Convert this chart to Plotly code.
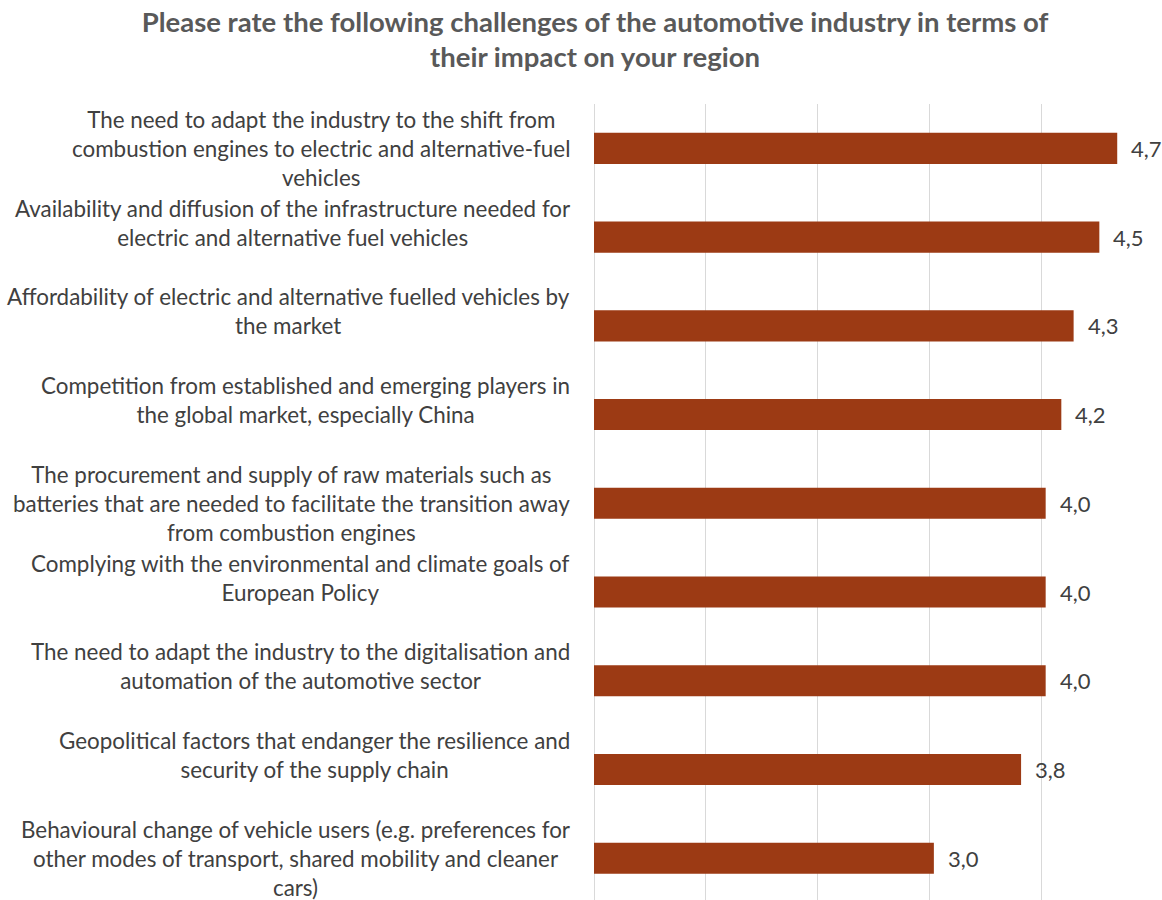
import plotly.graph_objects as go

# ---- data ----
categories = [
    "The need to adapt the industry to the shift from<br>combustion engines to electric and alternative-fuel<br>vehicles",
    "Availability and diffusion of the infrastructure needed for<br>electric and alternative fuel vehicles",
    "Affordability of electric and alternative fuelled vehicles by<br>the market",
    "Competition from established and emerging players in<br>the global market, especially China",
    "The procurement and supply of raw materials such as<br>batteries that are needed to facilitate the transition away<br>from combustion engines",
    "Complying with the environmental and climate goals of<br>European Policy",
    "The need to adapt the industry to the digitalisation and<br>automation of the automotive sector",
    "Geopolitical factors that endanger the resilience and<br>security of the supply chain",
    "Behavioural change of vehicle users (e.g. preferences for<br>other modes of transport, shared mobility and cleaner<br>cars)",
]
values = [4.68, 4.52, 4.29, 4.18, 4.04, 4.04, 4.04, 3.82, 3.04]
value_labels = ["4,7", "4,5", "4,3", "4,2", "4,0", "4,0", "4,0", "3,8", "3,0"]
title_text = ("Please rate the following challenges of the automotive industry in terms of"
              "<br>their impact on your region")

FONT = "Lato, 'Open Sans', sans-serif"
LABEL_SIZE = 22.4
VALUE_SIZE = 22
BAR_COLOR = "#9C3A14"

fig = go.Figure()
fig.add_trace(go.Bar(
    x=values,
    y=categories,
    orientation="h",
    marker=dict(color=BAR_COLOR, line=dict(width=0)),
    width=0.35,
    hoverinfo="skip",
))

annotations = []
line_h = 1.3 * LABEL_SIZE
for cat in categories:
    n = cat.count("<br>") + 1
    annotations.append(dict(
        text=cat, xref="paper", yref="y", x=0, y=cat,
        xanchor="right", yanchor="middle", align="center",
        xshift=-22, yshift=(line_h / 2) if n % 2 == 0 else 0,
        showarrow=False,
        font=dict(family=FONT, size=LABEL_SIZE, color="#404040"),
    ))
for cat, v, lab in zip(categories, values, value_labels):
    annotations.append(dict(
        text=lab, xref="x", yref="y", x=v, y=cat,
        xanchor="left", yanchor="middle", xshift=12,
        showarrow=False,
        font=dict(family=FONT, size=VALUE_SIZE, color="#404040"),
    ))

fig.update_layout(
    width=1162, height=900,
    margin=dict(l=594, r=9, t=104, b=0),
    paper_bgcolor="white", plot_bgcolor="white",
    title=dict(
        text=title_text, xref="container", yref="container",
        x=595 / 1162, xanchor="center", y=1 - 31.5 / 900, yanchor="middle",
        font=dict(family=FONT, size=27.5, color="#595959", weight="bold"),
    ),
    xaxis=dict(
        range=[0, 5], dtick=1, tick0=0, showticklabels=False,
        showgrid=True, gridcolor="#D9D9D9", gridwidth=1,
        zeroline=True, zerolinecolor="#D9D9D9", zerolinewidth=1,
        showline=False, ticks="",
    ),
    yaxis=dict(
        categoryorder="array", categoryarray=categories,
        range=[8.47, -0.5], showticklabels=False, showgrid=False,
        zeroline=False, showline=False, ticks="",
    ),
    annotations=annotations,
    showlegend=False,
    bargap=0.65,
)

fig.write_html("out.html")
